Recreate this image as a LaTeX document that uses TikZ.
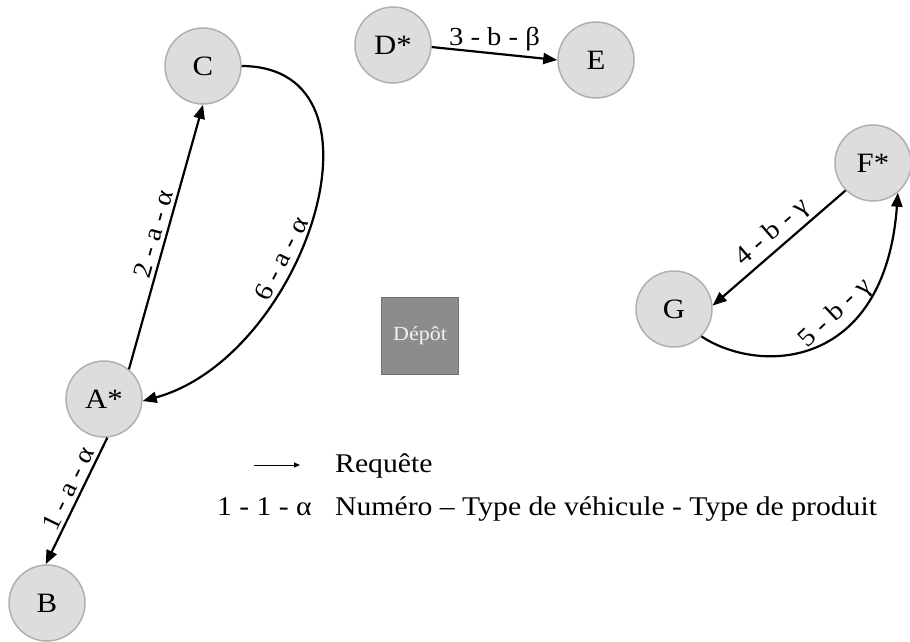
\documentclass[tikz,border=0pt]{standalone}
\usepackage{fontspec}
\setmainfont[FakeStretch=1.1]{Liberation Serif}
\usetikzlibrary{arrows.meta}
\definecolor{nodefill}{HTML}{DDDDDD}
\definecolor{nodeline}{HTML}{B0B0B0}
\definecolor{depotfill}{HTML}{8C8C8C}
\definecolor{depotline}{HTML}{707070}
\definecolor{depottext}{HTML}{F2F2F2}
\begin{document}
\begin{tikzpicture}[x=1pt,y=-1pt,
  place/.style={circle, draw=nodeline, fill=nodefill, line width=1.5pt, minimum size=76pt, inner sep=0pt, font=\fontsize{28}{31}\selectfont},
  req/.style={line width=2.2pt, -{Triangle[length=14pt,width=11pt]}},
  lab/.style={font=\fontsize{26}{29}\selectfont, inner sep=3pt},
  legend/.style={font=\fontsize{27}{30}\selectfont, inner sep=0pt},
  depot/.style={draw=depotline, fill=depotfill, line width=1.5pt, minimum size=77pt, inner sep=0pt, text=depottext, font=\fontsize{20}{24}\selectfont}]
\useasboundingbox (0,0) rectangle (910,642);
\node[place] (C) at (203,66) {C};
\node[place] (D) at (393,45) {D*};
\node[place] (E) at (596,60) {E};
\node[place] (F) at (873,163) {F*};
\node[place] (G) at (674,309) {G};
\node[place] (A) at (104,399) {A*};
\node[place] (B) at (47,603) {B};
\node[depot] (dep) at (420,336) {Dépôt};

\draw[req] (A.50) -- node[lab, sloped, above, pos=0.5] {2 - a - α} (C.south);
\draw[req] (C.east) .. controls (400,67) and (304,357) .. node[lab, sloped, above, pos=0.6] {6 - a - α} (A.-3);
\draw[req] (A.-85) -- node[lab, sloped, above, pos=0.45] {1 - a - α} (B.92);
\draw[req] (D.-3) -- node[lab, above, inner sep=1pt] {3 - b - β} (E.west);
\draw[req] (F.-135) -- node[lab, sloped, above, pos=0.47] {4 - b - γ} (G.5);
\draw[req] (G.-45) .. controls (760,375) and (885,370) .. node[lab, sloped, above, pos=0.63] {5 - b - γ} (F.-50);

\coordinate (l1) at (254,465);
\coordinate (l2) at (300,465);
\draw[line width=0.9pt, -{Triangle[length=6pt,width=5pt]}] (l1) -- (l2);
\node[legend, anchor=base west] (req) at (335,472) {Requête};
\node[legend, anchor=base east] (code) at (312,515) {1 - 1 - α};
\node[legend, anchor=base west] (desc) at (335,515) {Numéro – Type de véhicule - Type de produit};
\end{tikzpicture}
\end{document}
